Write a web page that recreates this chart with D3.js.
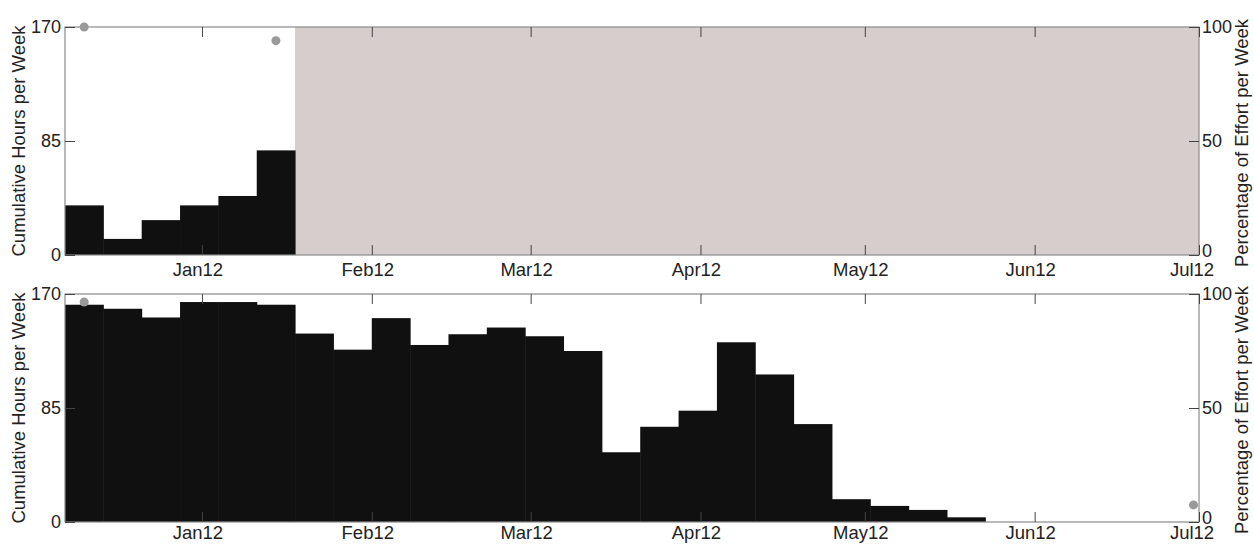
<!DOCTYPE html>
<html>
<head>
<meta charset="utf-8">
<script src="https://cdn.jsdelivr.net/npm/d3@7"></script>
<style>
  html, body { margin: 0; padding: 0; background: #fff; }
  svg { display: block; }
  text { font-family: "Liberation Sans", Arial, sans-serif; fill: #222; }
</style>
</head>
<body>
<svg id="chart" width="1254" height="544"></svg>
<script>
// ---------- data ----------
const firstWeek = "2011-12-07";           // start date of the first weekly bin
const axisEnd = "2012-07-01";
const monthTicks = ["2012-01-01","2012-02-01","2012-03-01","2012-04-01","2012-05-01","2012-06-01","2012-07-01"];
const tickLabels = ["Jan12","Feb12","Mar12","Apr12","May12","Jun12","Jul12"];
const hoursTicks = [0, 85, 170];
const pctTicks = [0, 50, 100];

// panel 1
const topHours = [37, 12, 26, 37, 44, 78];
const topShade = ["2012-01-18", "2012-07-01"];
const topDotDates = ["2011-12-10T12:00", "2012-01-14T12:00"];
const topDotPct = [100, 94];

// panel 2
const bottomHours = [162, 159, 152.5, 164, 164, 162, 140.5, 128.5, 152, 132, 140, 145,
                     138.5, 127.5, 52, 71, 83, 134, 110, 73, 17, 12, 9, 3.5];
const bottomDotDates = ["2011-12-10T12:00", "2012-06-30T00:00"];
const bottomDotPct = [96.5, 7.5];

// ---------- layout ----------
const L = 65, R = 1199;
const panels = [
  { top: 27, bottom: 255, labelGap: 21, hours: topHours, shade: topShade, dotDates: topDotDates, dotPct: topDotPct },
  { top: 294, bottom: 522, labelGap: 17, hours: bottomHours, shade: null, dotDates: bottomDotDates, dotPct: bottomDotPct }
];

const parse = d3.isoParse;
const svg = d3.select("#chart");
const x = d3.scaleTime().domain([parse(firstWeek), parse(axisEnd)]).range([L, R]);
const tickLen = 10;

panels.forEach((p, pi) => {
  const yL = d3.scaleLinear().domain([0, 170]).range([p.bottom, p.top]);
  const yR = d3.scaleLinear().domain([0, 100]).range([p.bottom, p.top]);
  const g = svg.append("g");

  // shaded region
  if (p.shade) {
    g.append("rect")
      .attr("x", x(parse(p.shade[0])))
      .attr("y", p.top)
      .attr("width", x(parse(p.shade[1])) - x(parse(p.shade[0])))
      .attr("height", p.bottom - p.top)
      .attr("fill", "#d6cdcd");
  }

  // bars (weekly bins)
  const bins = p.hours.map((v, i) => {
    const s = d3.timeDay.offset(parse(firstWeek), 7 * i);
    return { s, e: d3.timeDay.offset(s, 7), v };
  });
  g.selectAll("rect.bar").data(bins).join("rect")
    .attr("class", "bar")
    .attr("x", d => x(d.s))
    .attr("width", d => x(d.e) - x(d.s) + 0.5)
    .attr("y", d => yL(d.v))
    .attr("height", d => yL(0) - yL(d.v))
    .attr("fill", "#111010");

  // box
  g.append("rect")
    .attr("x", L).attr("y", p.top)
    .attr("width", R - L).attr("height", p.bottom - p.top)
    .attr("fill", "none").attr("stroke", "#8a8a8a").attr("stroke-width", 1.2);

  // x ticks (inward, top and bottom)
  const xt = monthTicks.map(parse);
  const axB = d3.axisBottom(x).tickValues(xt).tickSizeInner(-tickLen).tickSizeOuter(0).tickFormat("");
  const axT = d3.axisTop(x).tickValues(xt).tickSizeInner(-tickLen).tickSizeOuter(0).tickFormat("");
  [ [axB, p.bottom], [axT, p.top] ].forEach(([ax, ty]) => {
    const a = g.append("g").attr("transform", `translate(0,${ty})`).call(ax);
    a.select(".domain").remove();
    a.selectAll("line").attr("stroke", "#444").attr("stroke-width", 1);
  });
  // x tick labels
  g.selectAll("text.xl").data(xt).join("text")
    .attr("class", "xl")
    .attr("x", (d, i) => x(d) - (i === xt.length - 1 ? 7 : 4))
    .attr("y", p.bottom + p.labelGap)
    .attr("text-anchor", "middle")
    .attr("font-size", 18.5)
    .text((d, i) => tickLabels[i]);

  // left y axis
  const axLft = d3.axisLeft(yL).tickValues(hoursTicks).tickSizeInner(-tickLen).tickSizeOuter(0).tickFormat("");
  const a1 = g.append("g").attr("transform", `translate(${L},0)`).call(axLft);
  a1.select(".domain").remove();
  a1.selectAll("line").attr("stroke", "#444");
  g.selectAll("text.yl").data(hoursTicks).join("text")
    .attr("class", "yl")
    .attr("x", L - 4).attr("y", d => yL(d))
    .attr("dy", "0.36em")
    .attr("text-anchor", "end")
    .attr("font-size", 18)
    .text(d => d);

  // right y axis
  const axRt = d3.axisRight(yR).tickValues(pctTicks).tickSizeInner(-tickLen).tickSizeOuter(0).tickFormat("");
  const a2 = g.append("g").attr("transform", `translate(${R},0)`).call(axRt);
  a2.select(".domain").remove();
  a2.selectAll("line").attr("stroke", "#444");
  g.selectAll("text.yr").data(pctTicks).join("text")
    .attr("class", "yr")
    .attr("x", R + 3).attr("y", d => yR(d) - (d === 0 ? 4 : 0))
    .attr("dy", "0.36em")
    .attr("text-anchor", "start")
    .attr("font-size", 18)
    .text(d => d);

  // dots (percentage of effort, right axis)
  g.selectAll("circle.dot").data(p.dotDates.map((d, i) => ({ t: parse(d), v: p.dotPct[i] }))).join("circle")
    .attr("class", "dot")
    .attr("cx", d => x(d.t))
    .attr("cy", d => yR(d.v))
    .attr("r", 4.5)
    .attr("fill", "#9a9a9a");

  // axis labels
  const cy = (p.top + p.bottom) / 2;
  g.append("text")
    .attr("transform", `translate(25,${cy}) rotate(-90)`)
    .attr("text-anchor", "middle")
    .attr("font-size", 18.5)
    .text("Cumulative Hours per Week");
  g.append("text")
    .attr("transform", `translate(1248,${cy + 2}) rotate(-90)`)
    .attr("text-anchor", "middle")
    .attr("font-size", 18.5)
    .text("Percentage of Effort per Week");
});
</script>
</body>
</html>
